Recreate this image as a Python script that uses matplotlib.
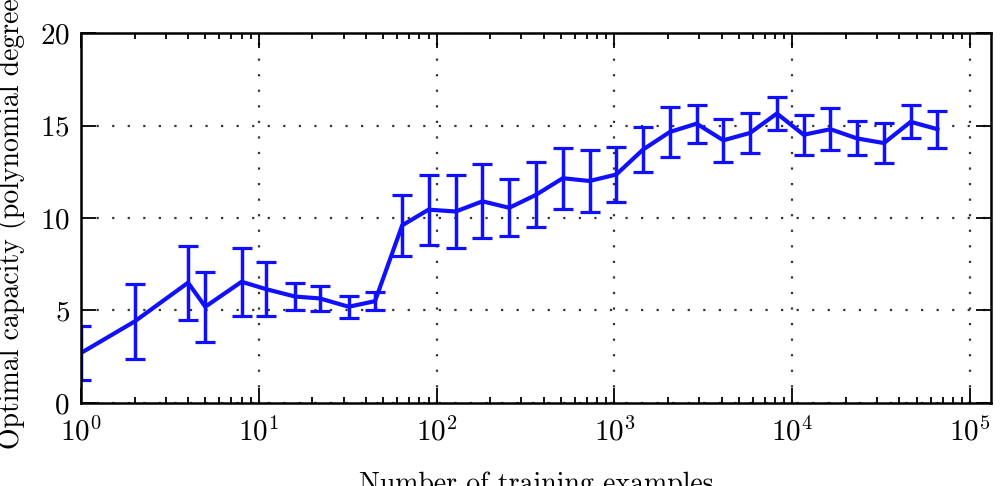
import matplotlib
matplotlib.use('Agg')
import matplotlib.pyplot as plt
import numpy as np

# Datos
n_train = [1, 2, 4, 5, 8, 11, 16, 22, 32, 45, 64, 90, 128, 181, 256, 362,
           512, 724, 1024, 1448, 2048, 2896, 4096, 5792, 8192, 11585, 16384,
           23170, 32768, 46340, 65536]
capacity = [2.7, 4.4, 6.5, 5.2, 6.55, 6.15, 5.75, 5.65, 5.2, 5.5, 9.6, 10.45,
            10.35, 10.9, 10.55, 11.25, 12.15, 12.0, 12.35, 13.7, 14.65, 15.1,
            14.2, 14.6, 15.65, 14.5, 14.8, 14.3, 14.05, 15.2, 14.8]
cap_err = [1.45, 2.05, 2.0, 1.9, 1.85, 1.45, 0.75, 0.68, 0.6, 0.5, 1.65, 1.9,
           2.0, 2.0, 1.55, 1.75, 1.65, 1.68, 1.5, 1.2, 1.33, 1.03, 1.15, 1.08,
           0.9, 1.07, 1.13, 0.92, 1.1, 0.9, 1.0]

plt.rcParams['font.family'] = 'serif'
plt.rcParams['font.serif'] = ['cmr10']
plt.rcParams['mathtext.fontset'] = 'cm'
plt.rcParams['axes.formatter.use_mathtext'] = True
plt.rcParams['font.size'] = 20

fig = plt.figure(figsize=(10, 4.86), dpi=100)
ax = fig.add_axes([0.081, 0.171, 0.910, 0.761])

ax.errorbar(n_train, capacity, yerr=cap_err, color='#1010ff', lw=3.0,
            elinewidth=2.5, capsize=7.5, capthick=2.3)

ax.set_xscale('log')
ax.set_xlim(1, 2 ** 17)
ax.set_ylim(0, 20)
ax.set_yticks([0, 5, 10, 15, 20])
ax.set_xticks([1, 10, 100, 1000, 10000, 100000])

ax.grid(True, which='major', color='#333333', linestyle=(0, (1, 6)), lw=1.6)

ax.tick_params(which='both', direction='in', top=True, right=True, width=1.3)
ax.tick_params(which='major', length=11)
ax.tick_params(axis='x', which='major', pad=10, labelsize=21)
ax.tick_params(axis='y', which='major', pad=8, labelsize=21)
ax.tick_params(which='minor', length=4.5)
for s in ax.spines.values():
    s.set_linewidth(1.8)

ax.set_xlabel('Number of training examples', labelpad=18)
ax.set_ylabel('Optimal capacity (polynomial degree)', labelpad=10)

fig.savefig('out.png', dpi=100)
plt.close(fig)
